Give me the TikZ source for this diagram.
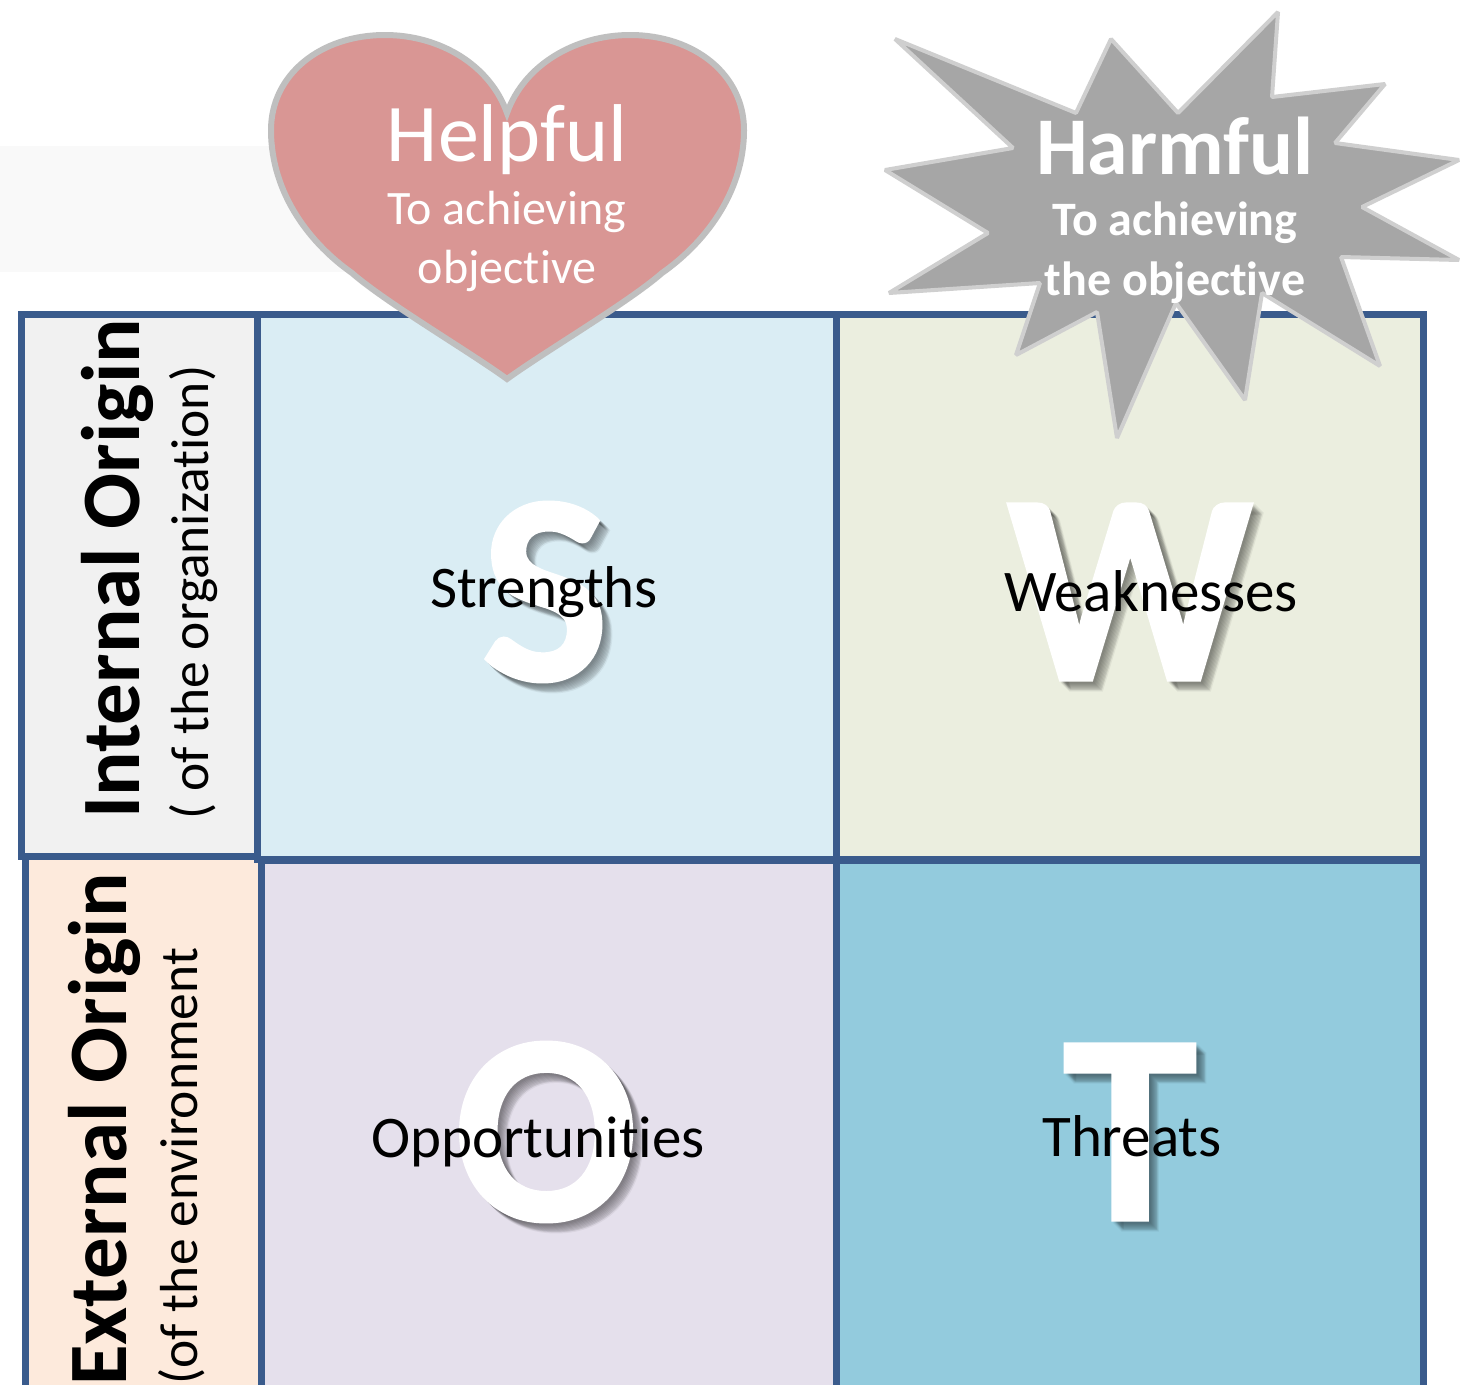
\documentclass[tikz,border=0pt]{standalone}
\usepackage{fontspec}
\setmainfont{Carlito}[Ligatures=NoCommon]
\newfontfamily\heavyfont{Carlito Bold}[FakeBold=1]
\definecolor{gridblue}{HTML}{3A5B8C}
\definecolor{heartred}{HTML}{D99694}
\definecolor{starcore}{HTML}{A6A6A6}
\definecolor{halo}{HTML}{BFBFBF}
\definecolor{starhalo}{HTML}{CFCFCF}
\definecolor{bandgray}{HTML}{F9F9F9}
\definecolor{internalbg}{HTML}{F1F1F1}
\definecolor{externalbg}{HTML}{FDEADC}
\definecolor{strengthbg}{HTML}{DAEDF4}
\definecolor{weakbg}{HTML}{EBEEDF}
\definecolor{opportbg}{HTML}{E5E0EC}
\definecolor{threatbg}{HTML}{93CBDD}
\newcommand{\fsize}[1]{\fontsize{#1}{#1}\selectfont}
\tikzset{
  cell/.style={draw=gridblue, line width=7pt, anchor=north west, inner sep=0pt, outer sep=0pt},
  bigletter/.style={font=\fsize{272}\heavyfont, text=white, inner sep=0pt},
  letterglow/.style={font=\fsize{272}\heavyfont, text=black, opacity=.05, inner sep=0pt},
  word/.style={font=\fsize{59}, text=black, inner sep=0pt},
  sidemain/.style={font=\fsize{83}\bfseries, rotate=90, anchor=base west, inner sep=0pt},
  sidesub/.style={font=\fsize{53.5}, rotate=90, anchor=base west, inner sep=0pt},
  oncolor/.style={text=white, inner sep=0pt, align=center},
}
\begin{document}
\begin{tikzpicture}[x=1pt, y=-1pt]
\clip (0,0) rectangle (1461,1384);
\fill[white] (0,0) rectangle (1461,1384);
\fill[bandgray] (0,146) rectangle (360,272);
% grid
\node (external) [cell, fill=externalbg, minimum width=235.5pt, minimum height=560pt] at (25.5,856) {};
\node (internal) [cell, fill=internalbg, minimum width=235.5pt, minimum height=542pt] at (21.5,314) {};
\node (cellS) [cell, fill=strengthbg, minimum width=579pt, minimum height=545pt] at (257,314) {};
\node (cellW) [cell, fill=weakbg, minimum width=587pt, minimum height=545pt] at (836,314) {};
\node (cellO) [cell, fill=opportbg, minimum width=575pt, minimum height=560pt] at (261,860) {};
\node (cellT) [cell, fill=threatbg, minimum width=587pt, minimum height=560pt] at (836,860) {};
% side labels
\node (intmain) [sidemain] at (139,819) {Internal Origin};
\node (intsub) [sidesub] at (208,820) {( of the organization)};
\node (extmain) [sidemain] at (126,1386) {External Origin};
\node (extsub) [sidesub] at (197,1385) {(of the environment};
% big letters, soft shadow first
\foreach \name/\lx/\ly/\letter in {S/545/592/S, W/1130/592/W, O/546/1132/O, T/1130/1132/T}{
  \foreach \dx in {2,...,10}{
    \node (glow\name\dx) [letterglow] at (\lx+\dx,\ly+\dx) {\letter};
  }
  \node (big\name) [bigletter] at (\lx,\ly) {\letter};
}
\node (strengths) [word] at (544,592) {Strengths};
\node (weaknesses) [word] at (1151,591) {Weaknesses};
\node (opportunities) [word] at (538,1142) {Opportunities};
\node (threats) [word] at (1132,1136) {Threats};
% heart
\draw[fill=heartred, draw=halo, line width=6pt, line join=miter]
  (507,113) .. controls (490,65) and (440,35) .. (385,35)
  .. controls (320,35) and (271,75) .. (271,130)
  .. controls (271,195) and (312,245) .. (352,273)
  .. controls (385,302) and (470,352) .. (507,379)
  .. controls (544,352) and (629,302) .. (662,273)
  .. controls (702,245) and (744,195) .. (744,130)
  .. controls (744,75) and (695,35) .. (630,35)
  .. controls (575,35) and (524,65) .. (507,113) -- cycle;
\node (helpful) [oncolor, font=\fsize{82}] at (507,140) {Helpful};
\node (helpfulto) [oncolor, font=\fsize{48}] at (507,212) {To achieving};
\node (helpfulobj) [oncolor, font=\fsize{48}] at (507,271) {objective};
% star
\draw[fill=starcore, draw=starhalo, line width=4pt, line join=miter, miter limit=1]
  (1278,12) -- (1272,97) -- (1385,84) -- (1335,143) -- (1459,160) -- (1362,207)
  -- (1459,260) -- (1341,257) -- (1380,366) -- (1262,293) -- (1245,400) -- (1176,303)
  -- (1117,438) -- (1097,312) -- (1016,355) -- (1040,283) -- (889,293) -- (988,233)
  -- (885,170) -- (1013,148) -- (895,39) -- (1076,113) -- (1111,39) -- (1178,113) -- cycle;
\node (harmful) [oncolor, font=\fsize{82}\bfseries] at (1175,146) {Harmful};
\node (harmfulto) [oncolor, font=\fsize{48}\bfseries] at (1175,223) {To achieving};
\node (harmfulobj) [oncolor, font=\fsize{48}\bfseries] at (1175,283) {the objective};
\end{tikzpicture}
\end{document}
